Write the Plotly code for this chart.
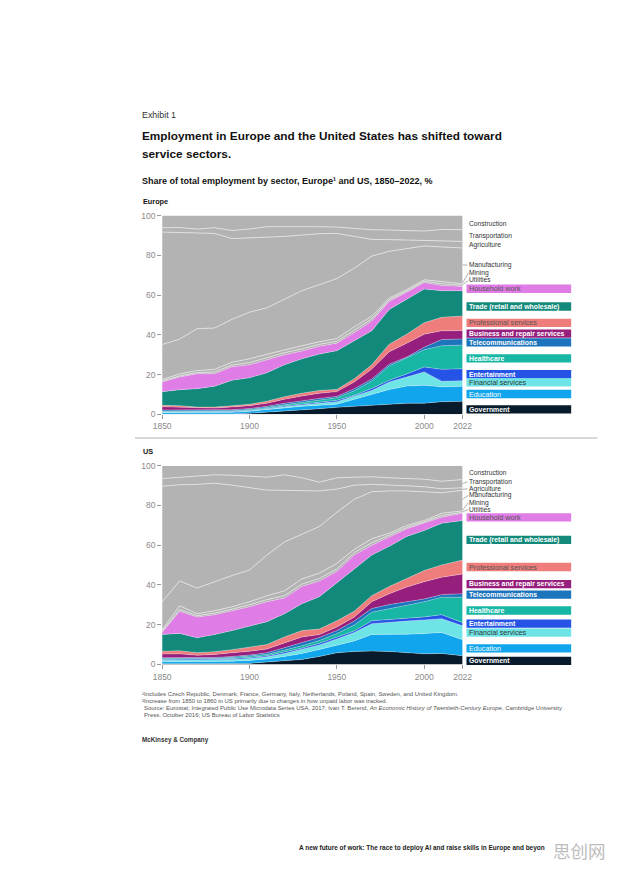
import plotly.graph_objects as go

W, H = 618, 876
FONT = "Liberation Sans, Arial, sans-serif"

years = [1850, 1860, 1870, 1880, 1890, 1900, 1910, 1920, 1930, 1940,
         1950, 1960, 1970, 1980, 1990, 2000, 2010, 2022]

sectors = ["Government", "Education", "Financial services", "Entertainment",
           "Healthcare", "Telecommunications", "Business and repair services",
           "Professional services", "Trade (retail and wholesale)", "Household work",
           "Utilities", "Mining", "Manufacturing", "Agriculture", "Transportation",
           "Construction"]

# Upper edge of each sector's band (cumulative share, %)
# ---- Europe ----
eu_government = [0.1, 0.1, 0.1, 0.1, 0.2, 0.5, 1.0, 1.8, 2.3, 2.8, 3.5, 4.0, 4.8, 5.3, 5.5, 5.6, 6.3, 6.5]
eu_education = [0.9, 0.9, 0.9, 0.9, 1.0, 1.5, 2.2, 3.2, 4.0, 4.5, 5.0, 7.5, 10.0, 12.5, 14.2, 14.6, 13.8, 14.1]
eu_financial = [1.2, 1.2, 1.1, 1.1, 1.3, 1.8, 2.6, 3.8, 4.8, 5.5, 6.3, 9.0, 12.0, 16.2, 18.7, 21.3, 16.6, 16.9]
eu_entertainment = [1.4, 1.4, 1.3, 1.3, 1.5, 2.0, 2.9, 4.2, 5.3, 6.1, 7.0, 9.6, 13.0, 17.1, 20.3, 23.8, 22.6, 22.9]
eu_healthcare = [1.7, 1.7, 1.6, 1.6, 1.8, 2.4, 3.4, 4.8, 6.0, 7.2, 8.3, 11.8, 16.8, 24.3, 28.2, 32.5, 34.5, 34.8]
eu_telecom = [2.2, 2.2, 2.0, 2.0, 2.3, 2.9, 4.0, 5.5, 6.8, 8.0, 9.0, 12.8, 17.8, 25.2, 28.8, 33.7, 37.6, 37.9]
eu_business = [3.8, 3.6, 3.1, 3.1, 3.7, 4.3, 5.6, 7.6, 9.2, 10.6, 11.4, 16.3, 22.8, 31.5, 35.8, 40.3, 42.0, 42.1]
eu_professional = [4.5, 4.3, 3.6, 3.6, 4.3, 5.0, 6.6, 8.8, 10.6, 12.0, 12.5, 17.9, 24.9, 35.3, 40.3, 46.0, 48.8, 49.4]
eu_trade = [11.3, 12.4, 12.9, 14.1, 17.1, 18.4, 20.9, 24.9, 27.9, 30.3, 32.0, 37.0, 42.0, 52.7, 57.7, 63.0, 62.2, 62.2]
eu_household = [16.3, 18.7, 20.4, 20.4, 23.9, 24.9, 27.4, 29.9, 31.8, 34.2, 35.8, 41.1, 46.9, 56.9, 61.4, 66.3, 64.8, 64.3]
eu_utilities = [16.7, 19.3, 21.0, 21.3, 24.8, 26.0, 28.5, 31.0, 32.9, 35.2, 36.7, 42.2, 48.0, 57.6, 62.0, 67.0, 65.7, 65.0]
eu_mining = [17.5, 20.3, 22.0, 22.6, 26.2, 27.9, 30.2, 32.5, 34.5, 36.5, 38.1, 44.0, 49.3, 58.5, 62.7, 67.7, 66.8, 65.7]
eu_manufacturing = [35.1, 37.8, 43.1, 43.4, 47.8, 51.4, 53.6, 58.0, 62.2, 65.2, 68.3, 73.5, 79.6, 82.0, 83.4, 84.7, 84.2, 83.7]
eu_agriculture = [91.7, 91.5, 91.2, 91.0, 88.4, 88.7, 88.9, 89.5, 90.2, 90.9, 91.0, 89.5, 88.0, 87.9, 87.7, 87.6, 87.4, 87.0]
eu_transportation = [93.9, 94.0, 93.2, 93.9, 92.5, 93.2, 94.4, 94.5, 94.4, 94.4, 94.2, 93.4, 92.9, 92.7, 92.5, 92.2, 93.0, 92.9]
eu_construction = [100, 100, 100, 100, 100, 100, 100, 100, 100, 100, 100, 100, 100, 100, 100, 100, 100, 100]

# ---- US ----
us_government = [0.3, 0.3, 0.3, 0.3, 0.4, 0.5, 1.2, 2.0, 2.5, 4.0, 5.8, 6.5, 6.7, 6.5, 5.8, 5.3, 5.5, 4.3]
us_education = [1.3, 1.4, 1.3, 1.4, 1.6, 2.0, 2.7, 4.0, 5.5, 7.5, 9.8, 11.8, 15.1, 15.0, 15.2, 15.5, 16.1, 12.4]
us_financial = [2.1, 2.2, 2.0, 2.2, 2.5, 3.0, 3.8, 5.5, 7.5, 9.8, 12.8, 16.0, 20.5, 21.3, 21.8, 22.4, 23.0, 19.4]
us_entertainment = [2.5, 2.6, 2.4, 2.6, 2.9, 3.5, 4.3, 6.2, 8.2, 10.6, 13.6, 16.8, 21.9, 22.6, 23.3, 23.9, 25.0, 21.0]
us_healthcare = [3.0, 3.1, 2.9, 3.1, 3.5, 4.1, 5.0, 7.2, 9.4, 12.0, 15.5, 19.8, 26.3, 28.0, 29.8, 31.5, 33.8, 33.8]
us_telecom = [3.4, 3.5, 3.3, 3.5, 4.0, 4.7, 5.8, 8.3, 10.8, 13.5, 17.0, 21.8, 28.1, 30.1, 31.5, 32.9, 35.1, 35.6]
us_business = [5.2, 5.3, 4.6, 5.0, 5.8, 6.6, 7.8, 10.8, 13.8, 15.0, 18.8, 23.8, 31.5, 35.6, 38.9, 41.6, 43.9, 45.5]
us_professional = [6.6, 6.8, 5.9, 6.4, 7.4, 8.7, 10.0, 13.8, 17.0, 17.8, 21.9, 26.8, 34.6, 39.2, 43.4, 47.2, 50.0, 52.5]
us_trade = [15.1, 15.6, 13.4, 15.0, 17.0, 19.4, 21.5, 25.5, 30.5, 34.1, 40.9, 48.0, 55.0, 59.4, 64.4, 67.4, 71.0, 72.4]
us_household = [16.1, 26.8, 23.8, 25.0, 27.0, 29.0, 31.5, 33.4, 39.2, 42.0, 46.7, 55.0, 59.9, 64.0, 68.2, 71.2, 74.0, 76.0]
us_utilities = [16.6, 27.6, 24.5, 25.8, 27.8, 30.0, 32.6, 34.6, 40.4, 43.2, 48.0, 56.3, 61.2, 64.9, 68.9, 71.7, 74.9, 76.6]
us_mining = [17.5, 29.5, 25.5, 27.0, 29.0, 31.5, 34.5, 37.0, 43.0, 45.9, 50.8, 57.9, 63.2, 66.0, 69.9, 72.4, 76.0, 77.3]
us_manufacturing = [31.5, 42.0, 38.4, 41.7, 44.7, 47.5, 55.0, 61.6, 65.7, 69.4, 76.5, 83.1, 86.9, 87.3, 87.3, 87.0, 86.4, 87.6]
us_agriculture = [89.7, 90.4, 90.6, 91.2, 90.2, 88.9, 87.7, 87.6, 87.3, 87.3, 88.2, 90.2, 90.6, 90.4, 89.9, 89.4, 88.4, 88.9]
us_transportation = [93.5, 94.2, 94.9, 95.4, 95.2, 94.7, 94.2, 95.4, 93.9, 91.7, 93.9, 94.2, 94.4, 93.9, 93.5, 93.2, 92.2, 93.0]
us_construction = [100, 100, 100, 100, 100, 100, 100, 100, 100, 100, 100, 100, 100, 100, 100, 100, 100, 100]

eu_tops = [eu_government, eu_education, eu_financial, eu_entertainment, eu_healthcare,
           eu_telecom, eu_business, eu_professional, eu_trade, eu_household, eu_utilities,
           eu_mining, eu_manufacturing, eu_agriculture, eu_transportation, eu_construction]
us_tops = [us_government, us_education, us_financial, us_entertainment, us_healthcare,
           us_telecom, us_business, us_professional, us_trade, us_household, us_utilities,
           us_mining, us_manufacturing, us_agriculture, us_transportation, us_construction]

colors = {
    "Government": "#071b2c", "Education": "#10a5ec", "Financial services": "#6fe4e6",
    "Entertainment": "#2453e6", "Healthcare": "#18b6a4", "Telecommunications": "#1c74bd",
    "Business and repair services": "#961f7d", "Professional services": "#ef7d7c",
    "Trade (retail and wholesale)": "#13897c", "Household work": "#e07ce6",
    "Utilities": "#b3b3b3", "Mining": "#b3b3b3", "Manufacturing": "#b3b3b3",
    "Agriculture": "#b3b3b3", "Transportation": "#b3b3b3", "Construction": "#b3b3b3",
}
grey_set = {"Utilities", "Mining", "Manufacturing", "Agriculture", "Transportation", "Construction"}


def shares_from_tops(tops):
    out = []
    prev = [0.0] * len(years)
    for t in tops:
        out.append([round(a - b, 2) for a, b in zip(t, prev)])
        prev = t
    return out


fig = go.Figure()
for tops, xa, ya, grp in [(eu_tops, "x", "y", "eu"), (us_tops, "x2", "y2", "us")]:
    for name, vals in zip(sectors, shares_from_tops(tops)):
        if name in grey_set:
            lc, lw = "#e2e2e2", 0.9
        else:
            lc, lw = "rgba(255,255,255,0.55)", 0.5
        if name == "Construction":
            lw = 0
        fig.add_trace(go.Scatter(
            x=years, y=vals, name=name, stackgroup=grp, mode="lines",
            line=dict(color=lc, width=lw, shape="linear"),
            fillcolor=colors[name], xaxis=xa, yaxis=ya, showlegend=False,
            hoverinfo="skip"))


def px(x):
    return x / W


def py(y):
    return 1 - y / H


axis_common_x = dict(range=[1850, 2022], tickvals=[1850, 1900, 1950, 2000, 2022],
                     ticktext=["1850", "1900", "1950", "2000", "2022"],
                     ticks="outside", ticklen=4, tickcolor="#999999", tickwidth=1,
                     showgrid=False, zeroline=False, showline=False,
                     tickfont=dict(family=FONT, size=8.5, color="#8a8a8a"))
axis_common_y = dict(range=[0, 100], tickvals=[0, 20, 40, 60, 80, 100],
                     ticks="outside", ticklen=4, tickcolor="#999999", tickwidth=1,
                     showgrid=False, zeroline=False, showline=False,
                     tickfont=dict(family=FONT, size=8.5, color="#8a8a8a"))

fig.update_layout(
    width=W, height=H, margin=dict(l=0, r=0, t=0, b=0),
    paper_bgcolor="white", plot_bgcolor="white", showlegend=False,
    xaxis=dict(domain=[px(158), px(468)], anchor="y", **axis_common_x),
    yaxis=dict(domain=[py(414), py(213)], anchor="x", **axis_common_y),
    xaxis2=dict(domain=[px(158), px(468)], anchor="y2", **axis_common_x),
    yaxis2=dict(domain=[py(667), py(466)], anchor="x2", **axis_common_y),
)


def txt(x, y, s, size, color="#222222", anchor="left", family=FONT):
    fig.add_annotation(xref="paper", yref="paper", x=px(x), y=py(y), text=s,
                       showarrow=False, xanchor=anchor, yanchor="middle",
                       borderpad=0, font=dict(size=size, color=color, family=family))


txt(136, 111, "Exhibit 1", 8.9, "#333333")
txt(136, 133, "<b>Employment in Europe and the United States has shifted toward</b>", 11.8, "#111111")
txt(136, 151, "<b>service sectors.</b>", 11.8, "#111111")
txt(136, 178, "<b>Share of total employment by sector, Europe¹ and US, 1850–2022, %</b>", 9.0, "#111111")
txt(137, 199, "<b>Europe</b>", 7.3, "#111111")
txt(137, 452, "<b>US</b>", 7.3, "#111111")

fig.add_shape(type="line", xref="paper", yref="paper", x0=px(130), x1=px(607),
              y0=py(438), y1=py(438), line=dict(color="#b0b0b0", width=1))

box_style = {
    "Household work": ("#555555", False),
    "Trade (retail and wholesale)": ("#ffffff", True),
    "Professional services": ("#555555", False),
    "Business and repair services": ("#ffffff", True),
    "Telecommunications": ("#ffffff", True),
    "Healthcare": ("#ffffff", True),
    "Entertainment": ("#ffffff", True),
    "Financial services": ("#333333", False),
    "Education": ("#ffffff", False),
    "Government": ("#ffffff", True),
}

eu_grey_labels = [("Construction", 221), ("Transportation", 234), ("Agriculture", 243),
                  ("Manufacturing", 263), ("Mining", 270.7), ("Utilities", 277.7)]
eu_boxes = [("Household work", 287), ("Trade (retail and wholesale)", 305),
            ("Professional services", 321.5), ("Business and repair services", 332.5),
            ("Telecommunications", 341.3), ("Healthcare", 357.5), ("Entertainment", 373.5),
            ("Financial services", 381.7), ("Education", 393.5), ("Government", 409)]
eu_leaders = [((468, 263), (473, 263)), ((468, 281), (474, 271)), ((468, 283), (474, 278.5))]

us_grey_labels = [("Construction", 472.7), ("Transportation", 482.3), ("Agriculture", 489.3),
                  ("Manufacturing", 496), ("Mining", 503.3), ("Utilities", 510.3)]
us_boxes = [("Household work", 518.3), ("Trade (retail and wholesale)", 541),
            ("Professional services", 568.5), ("Business and repair services", 585.8),
            ("Telecommunications", 596.5), ("Healthcare", 612.5), ("Entertainment", 625.8),
            ("Financial services", 634.8), ("Education", 650.8), ("Government", 663.5)]
us_leaders = [((468, 484), (473, 482.3)), ((468, 490), (473, 489.3)),
              ((468, 500), (474, 496)), ((468, 511), (474, 503.3)), ((468, 512.5), (474, 510.3))]

for grey_labels, boxes, leaders in [(eu_grey_labels, eu_boxes, eu_leaders),
                                    (us_grey_labels, us_boxes, us_leaders)]:
    for name, y in grey_labels:
        txt(474, y, name, 6.7, "#333333")
    for (x0, y0), (x1, y1) in leaders:
        fig.add_shape(type="line", xref="paper", yref="paper", x0=px(x0), y0=py(y0),
                      x1=px(x1), y1=py(y1), line=dict(color="#777777", width=0.6))
    for name, y in boxes:
        fig.add_shape(type="rect", xref="paper", yref="paper", x0=px(472), x1=px(580),
                      y0=py(y + 4.2), y1=py(y - 4.2), fillcolor=colors[name],
                      line=dict(width=0), layer="above")
        col, bold = box_style[name]
        s = f"<b>{name}</b>" if bold else name
        txt(474, y, s, 6.9 if bold else 7.2, col)

fn_col = "#555555"
txt(136, 697, "¹Includes Czech Republic, Denmark, France, Germany, Italy, Netherlands, Poland, Spain, Sweden, and United Kingdom.", 5.95, fn_col)
txt(136, 704, "²Increase from 1850 to 1860 in US primarily due to changes in how unpaid labor was tracked.", 5.95, fn_col)
txt(138, 711, "Source: Eurostat; Integrated Public Use Microdata Series USA, 2017; Ivan T. Berend, <i>An Economic History of Twentieth-Century Europe</i>, Cambridge University", 5.95, fn_col)
txt(138, 718, "Press, October 2016; US Bureau of Labor Statistics", 5.95, fn_col)
txt(136, 743, "<b>McKinsey & Company</b>", 6.3, "#333333")

txt(298, 853, "<b>A new future of work: The race to deploy AI and raise skills in Europe and beyon</b>", 6.45, "#222222")
txt(560, 855, "思创网", 17.5, "#bdbdbd", family="Noto Sans CJK SC")

fig.write_html("out.html")
